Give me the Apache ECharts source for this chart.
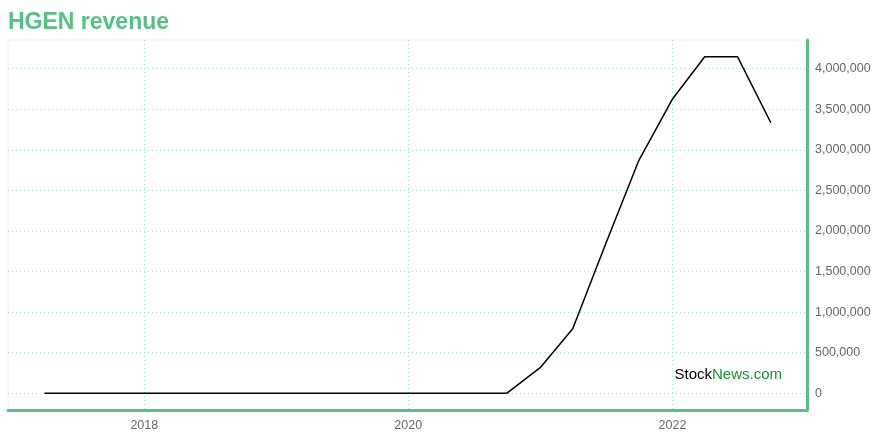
<!DOCTYPE html>
<html>
<head>
<meta charset="utf-8">
<script src="https://cdn.jsdelivr.net/npm/echarts@6/dist/echarts.min.js"></script>
<style>html,body{margin:0;padding:0;background:#fff;}#c{width:880px;height:440px;}</style>
</head>
<body>
<div id="c"></div>
<script>
const title = 'HGEN revenue';
const dates = ['2017-03-31','2017-06-30','2017-09-30','2017-12-31',
  '2018-03-31','2018-06-30','2018-09-30','2018-12-31',
  '2019-03-31','2019-06-30','2019-09-30','2019-12-31',
  '2020-03-31','2020-06-30','2020-09-30','2020-12-31',
  '2021-03-31','2021-06-30','2021-09-30','2021-12-31',
  '2022-03-31','2022-06-30','2022-09-30'];
const revenue = [0,0,0,0, 0,0,0,0, 0,0,0,0, 0,0,0,315000,
  794000,1840000,2871000,3620000, 4147000,4147000,3334000];
const xMin = '2016-12-20';
const xMax = '2023-01-08';
const yMin = -207000;
const yMax = 4354000;

const green = '#55c283';
const font = 'Liberation Sans, Arial, sans-serif';
const chart = echarts.init(document.getElementById('c'), null, {renderer:'canvas'});
chart.setOption({
  animation: false,
  backgroundColor: '#fff',
  title: {
    text: title, left: 8, top: 11, padding: 0,
    textStyle: {color: green, fontSize: 23, fontWeight: 'bold', fontFamily: font}
  },
  grid: {left: 8, right: 73, top: 40, bottom: 30, show: true, borderColor: '#f0f0f0', borderWidth: 1, backgroundColor: 'transparent'},
  xAxis: {
    type: 'time', min: xMin, max: xMax, splitNumber: 3,
    axisLine: {onZero: false, lineStyle: {color: green, width: 3}},
    axisTick: {show: false},
    axisLabel: {color: '#666', fontSize: 12.5, fontFamily: font, formatter: '{yyyy}', margin: 9},
    splitLine: {show: true, showMinLine: false, showMaxLine: false, lineStyle: {color: '#a6e3bf', type: [1, 3], width: 1}},
    minorTick: {show: false}
  },
  yAxis: {
    type: 'value', position: 'right', min: yMin, max: yMax, splitNumber: 10,
    axisLine: {show: true, lineStyle: {color: green, width: 3}},
    axisTick: {show: false},
    axisLabel: {color: '#666', fontSize: 12.5, fontFamily: font, margin: 8,
      showMinLabel: false, showMaxLabel: false,
      formatter: v => v.toLocaleString('en-US')},
    splitLine: {show: true, showMinLine: false, showMaxLine: false, lineStyle: {color: '#a6e3bf', type: [1, 3], width: 1}}
  },
  graphic: [{
    type: 'text', right: 98, bottom: 58,
    style: {
      text: '{a|Stock}{b|News.com}',
      rich: {
        a: {fill: '#000', fontSize: 15, fontFamily: font},
        b: {fill: '#1a8f2e', fontSize: 15, fontFamily: font}
      }
    }
  }],
  series: [{
    type: 'line', data: dates.map((d, i) => [d, revenue[i]]),
    showSymbol: false, symbol: 'none',
    lineStyle: {color: '#000', width: 1.5}
  }]
});
</script>
</body>
</html>
